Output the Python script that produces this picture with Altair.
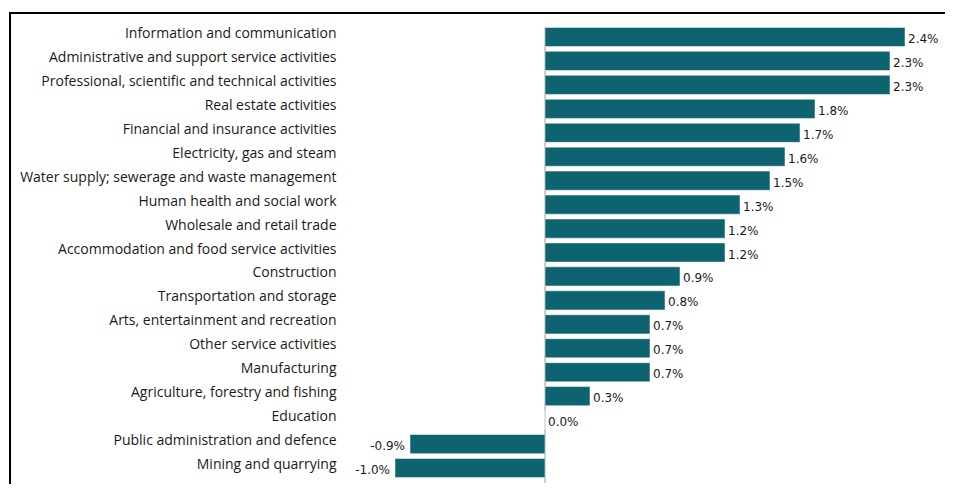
import altair as alt
import pandas as pd

categories = [
    "Information and communication",
    "Administrative and support service activities",
    "Professional, scientific and technical activities",
    "Real estate activities",
    "Financial and insurance activities",
    "Electricity, gas and steam",
    "Water supply; sewerage and waste management",
    "Human health and social work",
    "Wholesale and retail trade",
    "Accommodation and food service activities",
    "Construction",
    "Transportation and storage",
    "Arts, entertainment and recreation",
    "Other service activities",
    "Manufacturing",
    "Agriculture, forestry and fishing",
    "Education",
    "Public administration and defence",
    "Mining and quarrying",
]
values = [2.4, 2.3, 2.3, 1.8, 1.7, 1.6, 1.5, 1.3, 1.2, 1.2, 0.9, 0.8, 0.7, 0.7, 0.7, 0.3, 0.0, -0.9, -1.0]

df = pd.DataFrame({"category": categories, "value": values})
df["label"] = [f"{v:.1f}%" for v in values]
df["zero"] = 0.0

FONT = "Open Sans"
VFONT = "DejaVu Sans"
BAR = "#0d6470"
W, H = 510, 455

y_scale = alt.Scale(domain=categories, paddingInner=0.2, paddingOuter=0.1)
x_scale = alt.Scale(domain=[-1.0, 2.4], nice=False, zero=False)

y_axis = alt.Axis(domain=False, ticks=False, labelPadding=59, labelFontSize=14, labelOffset=-3,
                  labelFont=FONT, labelColor="#1a1a1a", labelLimit=400, title=None)

def X(field):
    return alt.X(field, type="quantitative", scale=x_scale, axis=None)

def Y():
    return alt.Y("category", type="nominal", scale=y_scale, axis=y_axis)

base = alt.Chart(df)

bars = base.mark_bar(color=BAR, stroke="#ffffff", strokeWidth=0.5).encode(
    x=X("value"),
    x2=alt.X2("zero"),
    y=Y(),
)

zero_rule = base.mark_rule(color="#cccccc", strokeWidth=1).encode(
    x=X("zero"), y=alt.value(2), y2=alt.value(458)
)

pos_text = base.transform_filter("datum.value >= 0").mark_text(
    align="left", baseline="middle", dx=3, dy=2, font=VFONT, fontSize=12, color="#1a1a1a"
).encode(x=X("value"), y=Y(), text=alt.Text("label", type="nominal"))

neg_text = base.transform_filter("datum.value < 0").mark_text(
    align="right", baseline="middle", dx=-5, dy=2, font=VFONT, fontSize=12, color="#1a1a1a"
).encode(x=X("value"), y=Y(), text=alt.Text("label", type="nominal"))

frame = base.mark_rect(filled=False, stroke="#000000", strokeWidth=2).encode(
    x=alt.value(-385), x2=alt.value(600), y=alt.value(-12), y2=alt.value(520)
)

chart = alt.layer(zero_rule, bars, pos_text, neg_text, frame).properties(
    width=W,
    height=H,
    autosize=alt.AutoSizeParams(type="none"),
    padding={"left": 387, "top": 17, "right": 40, "bottom": 4},
).configure_view(strokeWidth=0)

chart.save("out.html", embed_options={"renderer": "svg", "actions": False})
